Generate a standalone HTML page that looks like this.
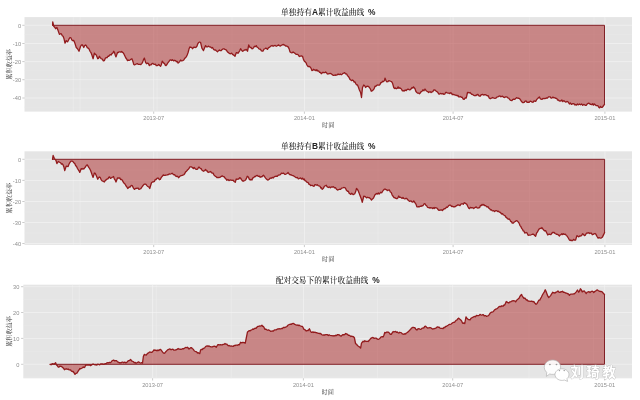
<!DOCTYPE html>
<html lang="zh"><head><meta charset="utf-8"><title>累计收益曲线</title>
<style>
html,body{margin:0;padding:0;background:#fff;}
body{width:640px;height:400px;overflow:hidden;}
svg{display:block;}
.t{font-family:"Liberation Sans","Noto Serif CJK SC",serif;font-size:7.72px;font-weight:500;fill:#1a1a1a;text-anchor:middle;}
.l{font-size:8.4px;font-weight:700;fill:#222}
.a{font-family:"Liberation Sans","Noto Serif CJK SC",serif;font-size:6.15px;fill:#3a3a3a;text-anchor:middle;}
.k{font-family:"Liberation Sans",sans-serif;font-size:5.7px;fill:#8e8e8e;}
.wm{font-family:"Liberation Sans","Noto Sans CJK SC",sans-serif;font-size:13.3px;font-weight:700;letter-spacing:2.7px;}
</style></head><body>
<svg width="640" height="400" viewBox="0 0 640 400" style="will-change:transform">
<g>
<rect x="24.50" y="17.10" width="607.50" height="94.50" fill="#E5E5E5"/>
<line x1="24.50" x2="632.00" y1="34.40" y2="34.40" stroke="#EBEBEB" stroke-width="0.4"/>
<line x1="24.50" x2="632.00" y1="52.50" y2="52.50" stroke="#EBEBEB" stroke-width="0.4"/>
<line x1="24.50" x2="632.00" y1="70.70" y2="70.70" stroke="#EBEBEB" stroke-width="0.4"/>
<line x1="24.50" x2="632.00" y1="88.90" y2="88.90" stroke="#EBEBEB" stroke-width="0.4"/>
<line x1="24.50" x2="632.00" y1="107.10" y2="107.10" stroke="#EBEBEB" stroke-width="0.4"/>
<line x1="73.40" x2="73.40" y1="17.10" y2="111.60" stroke="#EFEFEF" stroke-width="0.5"/>
<line x1="80.10" x2="80.10" y1="17.10" y2="111.60" stroke="#EFEFEF" stroke-width="0.5"/>
<line x1="157.10" x2="157.10" y1="17.10" y2="111.60" stroke="#EFEFEF" stroke-width="0.5"/>
<line x1="232.00" x2="232.00" y1="17.10" y2="111.60" stroke="#EFEFEF" stroke-width="0.5"/>
<line x1="378.00" x2="378.00" y1="17.10" y2="111.60" stroke="#EFEFEF" stroke-width="0.5"/>
<line x1="450.40" x2="450.40" y1="17.10" y2="111.60" stroke="#EFEFEF" stroke-width="0.5"/>
<line x1="529.50" x2="529.50" y1="17.10" y2="111.60" stroke="#EFEFEF" stroke-width="0.5"/>
<line x1="594.00" x2="594.00" y1="17.10" y2="111.60" stroke="#EFEFEF" stroke-width="0.5"/>
<line x1="24.50" x2="632.00" y1="25.30" y2="25.30" stroke="#F5F5F5" stroke-width="0.6"/>
<line x1="22.30" x2="24.50" y1="25.30" y2="25.30" stroke="#7F7F7F" stroke-width="0.4"/>
<text class="k" text-anchor="end" x="21.10" y="27.60">0</text>
<line x1="24.50" x2="632.00" y1="43.50" y2="43.50" stroke="#F5F5F5" stroke-width="0.6"/>
<line x1="22.30" x2="24.50" y1="43.50" y2="43.50" stroke="#7F7F7F" stroke-width="0.4"/>
<text class="k" text-anchor="end" x="21.10" y="45.80">-10</text>
<line x1="24.50" x2="632.00" y1="61.60" y2="61.60" stroke="#F5F5F5" stroke-width="0.6"/>
<line x1="22.30" x2="24.50" y1="61.60" y2="61.60" stroke="#7F7F7F" stroke-width="0.4"/>
<text class="k" text-anchor="end" x="21.10" y="63.90">-20</text>
<line x1="24.50" x2="632.00" y1="79.70" y2="79.70" stroke="#F5F5F5" stroke-width="0.6"/>
<line x1="22.30" x2="24.50" y1="79.70" y2="79.70" stroke="#7F7F7F" stroke-width="0.4"/>
<text class="k" text-anchor="end" x="21.10" y="82.00">-30</text>
<line x1="24.50" x2="632.00" y1="98.00" y2="98.00" stroke="#F5F5F5" stroke-width="0.6"/>
<line x1="22.30" x2="24.50" y1="98.00" y2="98.00" stroke="#7F7F7F" stroke-width="0.4"/>
<text class="k" text-anchor="end" x="21.10" y="100.30">-40</text>
<line x1="153.70" x2="153.70" y1="17.10" y2="111.60" stroke="#F5F5F5" stroke-width="0.6"/>
<line x1="153.70" x2="153.70" y1="111.60" y2="113.80" stroke="#7F7F7F" stroke-width="0.4"/>
<text class="k" text-anchor="middle" x="153.70" y="120.20">2013-07</text>
<line x1="304.40" x2="304.40" y1="17.10" y2="111.60" stroke="#F5F5F5" stroke-width="0.6"/>
<line x1="304.40" x2="304.40" y1="111.60" y2="113.80" stroke="#7F7F7F" stroke-width="0.4"/>
<text class="k" text-anchor="middle" x="304.40" y="120.20">2014-01</text>
<line x1="453.10" x2="453.10" y1="17.10" y2="111.60" stroke="#F5F5F5" stroke-width="0.6"/>
<line x1="453.10" x2="453.10" y1="111.60" y2="113.80" stroke="#7F7F7F" stroke-width="0.4"/>
<text class="k" text-anchor="middle" x="453.10" y="120.20">2014-07</text>
<line x1="604.90" x2="604.90" y1="17.10" y2="111.60" stroke="#F5F5F5" stroke-width="0.6"/>
<line x1="604.90" x2="604.90" y1="111.60" y2="113.80" stroke="#7F7F7F" stroke-width="0.4"/>
<text class="k" text-anchor="middle" x="604.90" y="120.20">2015-01</text>
<path d="M52.60,25.30 L52.75,21.90 L53.75,26.25 L54.67,27.17 L55.60,28.75 L56.90,27.50 L58.10,30.60 L59.40,34.40 L60.60,33.75 L61.43,33.92 L62.27,35.70 L63.10,36.25 L64.05,38.86 L65.00,43.10 L66.25,40.60 L67.50,41.90 L68.33,40.50 L69.17,38.71 L70.00,37.50 L70.95,37.91 L71.90,40.00 L72.73,40.65 L73.57,40.39 L74.40,41.90 L75.33,44.57 L76.25,47.50 L77.50,48.75 L79.00,51.25 L80.60,46.25 L81.55,44.81 L82.50,45.00 L83.75,47.50 L84.67,45.47 L85.60,45.00 L86.43,45.89 L87.27,47.69 L88.10,48.10 L89.05,48.96 L90.00,51.25 L90.95,52.60 L91.90,55.00 L93.10,58.75 L94.40,53.10 L95.33,54.29 L96.25,55.00 L97.75,58.75 L98.58,58.35 L99.40,56.25 L100.33,57.65 L101.25,58.75 L102.30,59.17 L103.35,60.89 L104.40,60.60 L105.33,58.19 L106.25,57.50 L107.08,57.76 L107.92,56.27 L108.75,56.25 L109.58,55.16 L110.42,54.69 L111.25,55.00 L112.08,53.39 L112.92,53.10 L113.75,51.25 L114.50,52.53 L115.25,55.17 L116.00,56.90 L117.50,52.50 L118.33,52.56 L119.17,51.86 L120.00,51.90 L120.83,52.19 L121.67,51.47 L122.50,52.50 L123.33,52.91 L124.17,54.44 L125.00,56.25 L125.83,58.04 L126.67,59.01 L127.50,60.60 L128.33,60.05 L129.17,60.36 L130.00,60.00 L130.95,59.29 L131.90,58.75 L132.82,61.19 L133.75,64.40 L134.58,64.83 L135.42,64.51 L136.25,64.00 L137.19,63.61 L138.12,64.34 L139.06,64.35 L140.00,64.40 L140.83,64.48 L141.67,63.57 L142.50,62.50 L143.45,59.90 L144.40,58.10 L145.60,62.50 L146.55,63.71 L147.50,63.10 L148.45,63.62 L149.40,65.60 L150.23,64.83 L151.07,64.86 L151.90,63.75 L152.73,63.31 L153.57,64.16 L154.40,64.40 L155.32,64.12 L156.25,65.60 L157.08,65.52 L157.92,65.30 L158.75,64.40 L159.68,65.46 L160.60,66.25 L161.43,64.46 L162.25,61.25 L163.75,63.10 L164.50,63.58 L165.25,65.14 L166.00,65.60 L167.05,64.23 L168.10,62.50 L169.05,61.40 L170.00,60.00 L170.83,59.83 L171.67,60.48 L172.50,59.75 L173.53,60.88 L174.57,60.27 L175.60,60.60 L176.43,61.75 L177.27,61.43 L178.10,63.10 L178.93,62.45 L179.77,61.31 L180.60,60.00 L181.65,60.94 L182.70,60.61 L183.75,60.00 L184.58,58.56 L185.42,57.72 L186.25,56.90 L187.18,55.02 L188.10,52.50 L189.05,48.79 L190.00,46.90 L190.83,47.44 L191.67,47.50 L192.50,48.75 L193.33,47.61 L194.17,47.08 L195.00,47.50 L195.95,47.38 L196.90,46.25 L197.82,43.67 L198.75,42.50 L199.68,42.02 L200.60,42.50 L201.90,48.10 L203.50,50.60 L204.55,47.89 L205.60,45.60 L206.55,46.96 L207.50,46.90 L208.33,46.10 L209.17,46.80 L210.00,46.90 L210.83,47.19 L211.67,48.03 L212.50,47.50 L213.33,48.94 L214.17,49.86 L215.00,50.00 L215.83,50.21 L216.67,51.11 L217.50,51.90 L218.45,50.68 L219.40,50.00 L220.23,50.65 L221.07,50.70 L221.90,49.75 L222.93,48.97 L223.97,48.90 L225.00,49.40 L225.83,49.72 L226.67,50.56 L227.50,51.90 L228.33,52.49 L229.17,53.30 L230.00,53.75 L230.83,53.52 L231.67,53.24 L232.50,54.40 L233.33,54.86 L234.17,55.38 L235.00,56.25 L236.25,52.75 L237.08,52.71 L237.92,53.28 L238.75,52.25 L239.68,50.86 L240.60,48.75 L241.55,50.03 L242.50,51.25 L243.45,50.85 L244.40,50.00 L245.32,50.03 L246.25,49.40 L247.50,51.25 L248.75,45.00 L250.00,47.50 L250.95,47.28 L251.90,48.75 L252.73,48.68 L253.57,47.62 L254.40,46.25 L255.32,46.64 L256.25,45.60 L257.08,47.22 L257.92,47.50 L258.75,48.75 L259.58,49.17 L260.42,49.23 L261.25,50.60 L262.18,51.06 L263.10,51.00 L264.05,49.04 L265.00,48.75 L265.83,48.14 L266.67,48.63 L267.50,49.40 L268.33,47.93 L269.17,47.43 L270.00,46.90 L271.03,45.83 L272.07,45.52 L273.10,46.25 L274.15,45.59 L275.20,45.49 L276.25,46.25 L277.30,45.77 L278.35,44.92 L279.40,45.60 L280.43,46.03 L281.47,45.25 L282.50,44.75 L283.53,44.50 L284.57,45.11 L285.60,46.00 L286.43,46.01 L287.27,46.34 L288.10,46.90 L289.05,48.68 L290.00,51.90 L291.03,52.56 L292.07,52.84 L293.10,51.90 L294.15,52.67 L295.20,53.54 L296.25,54.40 L297.30,54.31 L298.35,55.04 L299.40,56.50 L300.43,56.12 L301.47,55.89 L302.50,56.25 L303.45,59.37 L304.40,61.25 L305.23,61.86 L306.07,62.84 L306.90,65.00 L307.93,66.49 L308.97,66.32 L310.00,66.90 L310.95,68.08 L311.90,70.60 L312.73,70.48 L313.57,69.30 L314.40,70.00 L315.23,69.97 L316.07,70.74 L316.90,69.75 L317.82,71.07 L318.75,71.00 L319.58,72.29 L320.42,72.38 L321.25,73.75 L322.08,73.08 L322.92,72.28 L323.75,72.50 L324.68,72.72 L325.60,71.90 L326.43,72.66 L327.27,73.83 L328.10,74.00 L329.15,73.59 L330.20,73.31 L331.25,73.75 L332.19,74.65 L333.12,75.30 L334.06,75.36 L335.00,75.00 L336.03,75.25 L337.07,74.94 L338.10,74.00 L339.15,74.71 L340.20,73.98 L341.25,74.75 L342.08,74.23 L342.92,73.38 L343.75,73.10 L344.62,72.56 L345.50,73.80 L346.50,73.80 L347.50,75.60 L348.33,76.45 L349.17,77.68 L350.00,79.40 L350.83,79.97 L351.67,80.67 L352.50,80.00 L353.33,80.53 L354.17,82.10 L355.00,81.90 L355.83,83.86 L356.67,84.83 L357.50,85.00 L358.45,87.24 L359.40,90.00 L360.60,92.50 L361.50,97.50 L362.50,87.50 L363.75,85.00 L364.68,85.72 L365.60,87.50 L366.55,86.36 L367.50,86.25 L368.45,86.30 L369.40,87.50 L370.32,88.81 L371.25,91.25 L372.18,90.86 L373.10,90.00 L374.05,88.89 L375.00,86.25 L375.83,86.48 L376.67,85.38 L377.50,85.00 L378.33,85.09 L379.17,85.17 L380.00,84.40 L380.83,82.56 L381.67,82.61 L382.50,81.25 L383.45,81.70 L384.40,80.60 L385.00,78.10 L385.95,80.54 L386.90,81.90 L387.82,81.73 L388.75,80.60 L389.68,80.88 L390.60,81.25 L391.55,81.56 L392.50,83.10 L393.75,87.50 L394.58,88.47 L395.42,88.02 L396.25,88.75 L397.18,88.40 L398.10,86.90 L398.93,88.33 L399.77,87.77 L400.60,88.50 L401.43,89.01 L402.27,90.75 L403.10,90.60 L404.15,91.03 L405.20,89.97 L406.25,90.60 L407.08,89.49 L407.92,89.14 L408.75,89.40 L409.58,89.95 L410.42,89.55 L411.25,88.75 L412.00,87.46 L412.75,88.14 L413.50,86.90 L415.00,88.75 L415.95,91.54 L416.90,92.50 L417.73,93.22 L418.57,93.05 L419.40,93.75 L420.23,93.09 L421.07,91.55 L421.90,91.50 L422.93,89.74 L423.97,90.73 L425.00,89.00 L425.95,90.41 L426.90,91.25 L427.73,91.52 L428.57,92.51 L429.40,91.90 L430.23,91.77 L431.07,92.61 L431.90,91.90 L432.82,91.57 L433.75,90.00 L434.58,89.87 L435.42,90.36 L436.25,91.25 L437.08,91.77 L437.92,92.59 L438.75,94.00 L439.58,94.08 L440.42,93.38 L441.25,93.75 L442.08,93.81 L442.92,93.48 L443.75,94.40 L444.68,94.23 L445.60,92.50 L446.43,92.42 L447.27,92.82 L448.10,93.10 L448.93,93.14 L449.77,93.63 L450.60,92.75 L451.43,93.15 L452.27,94.64 L453.10,94.40 L454.15,94.69 L455.20,95.03 L456.25,95.25 L457.08,95.84 L457.92,95.44 L458.75,96.90 L459.58,96.90 L460.42,96.53 L461.25,97.25 L462.18,97.18 L463.10,99.00 L464.15,99.27 L465.20,97.78 L466.25,98.10 L467.50,92.50 L468.33,92.45 L469.17,92.93 L470.00,92.50 L470.95,93.56 L471.90,94.40 L472.73,94.47 L473.57,95.23 L474.40,95.60 L475.23,95.42 L476.07,95.57 L476.90,94.75 L477.93,94.50 L478.97,95.86 L480.00,96.25 L480.83,95.16 L481.67,94.59 L482.50,94.40 L483.53,95.03 L484.57,94.65 L485.60,94.75 L486.43,95.15 L487.27,95.81 L488.10,95.60 L489.18,97.96 L490.25,98.75 L491.00,98.23 L491.75,98.13 L492.50,97.50 L493.33,97.78 L494.17,98.06 L495.00,98.30 L495.83,98.20 L496.67,97.28 L497.50,96.90 L498.33,96.60 L499.17,96.12 L500.00,95.80 L500.83,96.79 L501.67,96.48 L502.50,96.25 L503.53,97.18 L504.57,97.52 L505.60,96.90 L506.65,96.84 L507.70,97.81 L508.75,98.10 L509.80,99.78 L510.85,100.41 L511.90,100.60 L512.73,99.51 L513.57,99.08 L514.40,99.40 L515.43,98.86 L516.47,97.72 L517.50,98.10 L518.53,98.24 L519.57,98.56 L520.60,100.00 L521.55,101.57 L522.50,102.50 L523.33,102.62 L524.17,102.42 L525.00,101.25 L526.03,100.93 L527.07,102.33 L528.10,102.25 L529.15,102.30 L530.20,101.07 L531.25,101.50 L532.19,102.16 L533.12,102.26 L534.06,100.78 L535.00,101.25 L535.83,101.28 L536.67,99.39 L537.50,98.75 L538.45,97.80 L539.40,96.90 L540.23,98.66 L541.07,99.20 L541.90,99.40 L542.93,98.46 L543.97,98.67 L545.00,98.50 L545.83,98.40 L546.67,97.93 L547.50,98.10 L548.45,96.92 L549.40,96.90 L550.23,96.96 L551.07,98.12 L551.90,98.10 L552.93,97.07 L553.97,97.97 L555.00,97.75 L555.83,98.39 L556.67,98.33 L557.50,100.00 L558.33,100.01 L559.17,100.90 L560.00,101.00 L560.94,100.92 L561.88,99.97 L562.81,101.62 L563.75,100.60 L564.80,101.45 L565.85,102.10 L566.90,101.50 L567.73,101.58 L568.57,102.72 L569.40,104.00 L570.43,103.04 L571.47,104.36 L572.50,103.75 L573.33,103.73 L574.17,103.88 L575.00,105.00 L575.83,104.52 L576.67,105.12 L577.50,104.00 L578.53,104.86 L579.57,104.04 L580.60,104.75 L581.65,103.97 L582.70,105.31 L583.75,104.40 L584.58,104.82 L585.42,105.35 L586.25,105.25 L587.30,103.89 L588.35,103.24 L589.40,103.50 L590.23,104.27 L591.07,104.19 L591.90,104.75 L592.73,103.69 L593.57,105.08 L594.40,104.00 L595.23,104.79 L596.07,105.64 L596.90,105.60 L597.83,105.63 L598.75,107.25 L599.58,107.93 L600.42,106.43 L601.25,107.25 L602.17,107.44 L603.10,106.25 L604.50,104.40 L604.50,25.30 L52.60,25.30 Z" fill="#AB2727" fill-opacity="0.5" stroke="none"/>
<path d="M604.50,104.40 L604.50,25.30 L52.60,25.30" fill="none" stroke="#7C171D" stroke-width="0.95" stroke-linejoin="miter"/>
<path d="M52.60,25.30 L52.75,21.90 L53.75,26.25 L54.67,27.17 L55.60,28.75 L56.90,27.50 L58.10,30.60 L59.40,34.40 L60.60,33.75 L61.43,33.92 L62.27,35.70 L63.10,36.25 L64.05,38.86 L65.00,43.10 L66.25,40.60 L67.50,41.90 L68.33,40.50 L69.17,38.71 L70.00,37.50 L70.95,37.91 L71.90,40.00 L72.73,40.65 L73.57,40.39 L74.40,41.90 L75.33,44.57 L76.25,47.50 L77.50,48.75 L79.00,51.25 L80.60,46.25 L81.55,44.81 L82.50,45.00 L83.75,47.50 L84.67,45.47 L85.60,45.00 L86.43,45.89 L87.27,47.69 L88.10,48.10 L89.05,48.96 L90.00,51.25 L90.95,52.60 L91.90,55.00 L93.10,58.75 L94.40,53.10 L95.33,54.29 L96.25,55.00 L97.75,58.75 L98.58,58.35 L99.40,56.25 L100.33,57.65 L101.25,58.75 L102.30,59.17 L103.35,60.89 L104.40,60.60 L105.33,58.19 L106.25,57.50 L107.08,57.76 L107.92,56.27 L108.75,56.25 L109.58,55.16 L110.42,54.69 L111.25,55.00 L112.08,53.39 L112.92,53.10 L113.75,51.25 L114.50,52.53 L115.25,55.17 L116.00,56.90 L117.50,52.50 L118.33,52.56 L119.17,51.86 L120.00,51.90 L120.83,52.19 L121.67,51.47 L122.50,52.50 L123.33,52.91 L124.17,54.44 L125.00,56.25 L125.83,58.04 L126.67,59.01 L127.50,60.60 L128.33,60.05 L129.17,60.36 L130.00,60.00 L130.95,59.29 L131.90,58.75 L132.82,61.19 L133.75,64.40 L134.58,64.83 L135.42,64.51 L136.25,64.00 L137.19,63.61 L138.12,64.34 L139.06,64.35 L140.00,64.40 L140.83,64.48 L141.67,63.57 L142.50,62.50 L143.45,59.90 L144.40,58.10 L145.60,62.50 L146.55,63.71 L147.50,63.10 L148.45,63.62 L149.40,65.60 L150.23,64.83 L151.07,64.86 L151.90,63.75 L152.73,63.31 L153.57,64.16 L154.40,64.40 L155.32,64.12 L156.25,65.60 L157.08,65.52 L157.92,65.30 L158.75,64.40 L159.68,65.46 L160.60,66.25 L161.43,64.46 L162.25,61.25 L163.75,63.10 L164.50,63.58 L165.25,65.14 L166.00,65.60 L167.05,64.23 L168.10,62.50 L169.05,61.40 L170.00,60.00 L170.83,59.83 L171.67,60.48 L172.50,59.75 L173.53,60.88 L174.57,60.27 L175.60,60.60 L176.43,61.75 L177.27,61.43 L178.10,63.10 L178.93,62.45 L179.77,61.31 L180.60,60.00 L181.65,60.94 L182.70,60.61 L183.75,60.00 L184.58,58.56 L185.42,57.72 L186.25,56.90 L187.18,55.02 L188.10,52.50 L189.05,48.79 L190.00,46.90 L190.83,47.44 L191.67,47.50 L192.50,48.75 L193.33,47.61 L194.17,47.08 L195.00,47.50 L195.95,47.38 L196.90,46.25 L197.82,43.67 L198.75,42.50 L199.68,42.02 L200.60,42.50 L201.90,48.10 L203.50,50.60 L204.55,47.89 L205.60,45.60 L206.55,46.96 L207.50,46.90 L208.33,46.10 L209.17,46.80 L210.00,46.90 L210.83,47.19 L211.67,48.03 L212.50,47.50 L213.33,48.94 L214.17,49.86 L215.00,50.00 L215.83,50.21 L216.67,51.11 L217.50,51.90 L218.45,50.68 L219.40,50.00 L220.23,50.65 L221.07,50.70 L221.90,49.75 L222.93,48.97 L223.97,48.90 L225.00,49.40 L225.83,49.72 L226.67,50.56 L227.50,51.90 L228.33,52.49 L229.17,53.30 L230.00,53.75 L230.83,53.52 L231.67,53.24 L232.50,54.40 L233.33,54.86 L234.17,55.38 L235.00,56.25 L236.25,52.75 L237.08,52.71 L237.92,53.28 L238.75,52.25 L239.68,50.86 L240.60,48.75 L241.55,50.03 L242.50,51.25 L243.45,50.85 L244.40,50.00 L245.32,50.03 L246.25,49.40 L247.50,51.25 L248.75,45.00 L250.00,47.50 L250.95,47.28 L251.90,48.75 L252.73,48.68 L253.57,47.62 L254.40,46.25 L255.32,46.64 L256.25,45.60 L257.08,47.22 L257.92,47.50 L258.75,48.75 L259.58,49.17 L260.42,49.23 L261.25,50.60 L262.18,51.06 L263.10,51.00 L264.05,49.04 L265.00,48.75 L265.83,48.14 L266.67,48.63 L267.50,49.40 L268.33,47.93 L269.17,47.43 L270.00,46.90 L271.03,45.83 L272.07,45.52 L273.10,46.25 L274.15,45.59 L275.20,45.49 L276.25,46.25 L277.30,45.77 L278.35,44.92 L279.40,45.60 L280.43,46.03 L281.47,45.25 L282.50,44.75 L283.53,44.50 L284.57,45.11 L285.60,46.00 L286.43,46.01 L287.27,46.34 L288.10,46.90 L289.05,48.68 L290.00,51.90 L291.03,52.56 L292.07,52.84 L293.10,51.90 L294.15,52.67 L295.20,53.54 L296.25,54.40 L297.30,54.31 L298.35,55.04 L299.40,56.50 L300.43,56.12 L301.47,55.89 L302.50,56.25 L303.45,59.37 L304.40,61.25 L305.23,61.86 L306.07,62.84 L306.90,65.00 L307.93,66.49 L308.97,66.32 L310.00,66.90 L310.95,68.08 L311.90,70.60 L312.73,70.48 L313.57,69.30 L314.40,70.00 L315.23,69.97 L316.07,70.74 L316.90,69.75 L317.82,71.07 L318.75,71.00 L319.58,72.29 L320.42,72.38 L321.25,73.75 L322.08,73.08 L322.92,72.28 L323.75,72.50 L324.68,72.72 L325.60,71.90 L326.43,72.66 L327.27,73.83 L328.10,74.00 L329.15,73.59 L330.20,73.31 L331.25,73.75 L332.19,74.65 L333.12,75.30 L334.06,75.36 L335.00,75.00 L336.03,75.25 L337.07,74.94 L338.10,74.00 L339.15,74.71 L340.20,73.98 L341.25,74.75 L342.08,74.23 L342.92,73.38 L343.75,73.10 L344.62,72.56 L345.50,73.80 L346.50,73.80 L347.50,75.60 L348.33,76.45 L349.17,77.68 L350.00,79.40 L350.83,79.97 L351.67,80.67 L352.50,80.00 L353.33,80.53 L354.17,82.10 L355.00,81.90 L355.83,83.86 L356.67,84.83 L357.50,85.00 L358.45,87.24 L359.40,90.00 L360.60,92.50 L361.50,97.50 L362.50,87.50 L363.75,85.00 L364.68,85.72 L365.60,87.50 L366.55,86.36 L367.50,86.25 L368.45,86.30 L369.40,87.50 L370.32,88.81 L371.25,91.25 L372.18,90.86 L373.10,90.00 L374.05,88.89 L375.00,86.25 L375.83,86.48 L376.67,85.38 L377.50,85.00 L378.33,85.09 L379.17,85.17 L380.00,84.40 L380.83,82.56 L381.67,82.61 L382.50,81.25 L383.45,81.70 L384.40,80.60 L385.00,78.10 L385.95,80.54 L386.90,81.90 L387.82,81.73 L388.75,80.60 L389.68,80.88 L390.60,81.25 L391.55,81.56 L392.50,83.10 L393.75,87.50 L394.58,88.47 L395.42,88.02 L396.25,88.75 L397.18,88.40 L398.10,86.90 L398.93,88.33 L399.77,87.77 L400.60,88.50 L401.43,89.01 L402.27,90.75 L403.10,90.60 L404.15,91.03 L405.20,89.97 L406.25,90.60 L407.08,89.49 L407.92,89.14 L408.75,89.40 L409.58,89.95 L410.42,89.55 L411.25,88.75 L412.00,87.46 L412.75,88.14 L413.50,86.90 L415.00,88.75 L415.95,91.54 L416.90,92.50 L417.73,93.22 L418.57,93.05 L419.40,93.75 L420.23,93.09 L421.07,91.55 L421.90,91.50 L422.93,89.74 L423.97,90.73 L425.00,89.00 L425.95,90.41 L426.90,91.25 L427.73,91.52 L428.57,92.51 L429.40,91.90 L430.23,91.77 L431.07,92.61 L431.90,91.90 L432.82,91.57 L433.75,90.00 L434.58,89.87 L435.42,90.36 L436.25,91.25 L437.08,91.77 L437.92,92.59 L438.75,94.00 L439.58,94.08 L440.42,93.38 L441.25,93.75 L442.08,93.81 L442.92,93.48 L443.75,94.40 L444.68,94.23 L445.60,92.50 L446.43,92.42 L447.27,92.82 L448.10,93.10 L448.93,93.14 L449.77,93.63 L450.60,92.75 L451.43,93.15 L452.27,94.64 L453.10,94.40 L454.15,94.69 L455.20,95.03 L456.25,95.25 L457.08,95.84 L457.92,95.44 L458.75,96.90 L459.58,96.90 L460.42,96.53 L461.25,97.25 L462.18,97.18 L463.10,99.00 L464.15,99.27 L465.20,97.78 L466.25,98.10 L467.50,92.50 L468.33,92.45 L469.17,92.93 L470.00,92.50 L470.95,93.56 L471.90,94.40 L472.73,94.47 L473.57,95.23 L474.40,95.60 L475.23,95.42 L476.07,95.57 L476.90,94.75 L477.93,94.50 L478.97,95.86 L480.00,96.25 L480.83,95.16 L481.67,94.59 L482.50,94.40 L483.53,95.03 L484.57,94.65 L485.60,94.75 L486.43,95.15 L487.27,95.81 L488.10,95.60 L489.18,97.96 L490.25,98.75 L491.00,98.23 L491.75,98.13 L492.50,97.50 L493.33,97.78 L494.17,98.06 L495.00,98.30 L495.83,98.20 L496.67,97.28 L497.50,96.90 L498.33,96.60 L499.17,96.12 L500.00,95.80 L500.83,96.79 L501.67,96.48 L502.50,96.25 L503.53,97.18 L504.57,97.52 L505.60,96.90 L506.65,96.84 L507.70,97.81 L508.75,98.10 L509.80,99.78 L510.85,100.41 L511.90,100.60 L512.73,99.51 L513.57,99.08 L514.40,99.40 L515.43,98.86 L516.47,97.72 L517.50,98.10 L518.53,98.24 L519.57,98.56 L520.60,100.00 L521.55,101.57 L522.50,102.50 L523.33,102.62 L524.17,102.42 L525.00,101.25 L526.03,100.93 L527.07,102.33 L528.10,102.25 L529.15,102.30 L530.20,101.07 L531.25,101.50 L532.19,102.16 L533.12,102.26 L534.06,100.78 L535.00,101.25 L535.83,101.28 L536.67,99.39 L537.50,98.75 L538.45,97.80 L539.40,96.90 L540.23,98.66 L541.07,99.20 L541.90,99.40 L542.93,98.46 L543.97,98.67 L545.00,98.50 L545.83,98.40 L546.67,97.93 L547.50,98.10 L548.45,96.92 L549.40,96.90 L550.23,96.96 L551.07,98.12 L551.90,98.10 L552.93,97.07 L553.97,97.97 L555.00,97.75 L555.83,98.39 L556.67,98.33 L557.50,100.00 L558.33,100.01 L559.17,100.90 L560.00,101.00 L560.94,100.92 L561.88,99.97 L562.81,101.62 L563.75,100.60 L564.80,101.45 L565.85,102.10 L566.90,101.50 L567.73,101.58 L568.57,102.72 L569.40,104.00 L570.43,103.04 L571.47,104.36 L572.50,103.75 L573.33,103.73 L574.17,103.88 L575.00,105.00 L575.83,104.52 L576.67,105.12 L577.50,104.00 L578.53,104.86 L579.57,104.04 L580.60,104.75 L581.65,103.97 L582.70,105.31 L583.75,104.40 L584.58,104.82 L585.42,105.35 L586.25,105.25 L587.30,103.89 L588.35,103.24 L589.40,103.50 L590.23,104.27 L591.07,104.19 L591.90,104.75 L592.73,103.69 L593.57,105.08 L594.40,104.00 L595.23,104.79 L596.07,105.64 L596.90,105.60 L597.83,105.63 L598.75,107.25 L599.58,107.93 L600.42,106.43 L601.25,107.25 L602.17,107.44 L603.10,106.25 L604.50,104.40" fill="none" stroke="#921B1D" stroke-width="1.3" stroke-linejoin="round" stroke-linecap="round"/>
<text class="t" x="328.25" y="15.10">单独持有<tspan class="l">A</tspan>累计收益曲线 <tspan class="l" dx="1.65">%</tspan></text>
<text class="a" x="328.25" y="127.30">时间</text>
<text class="a" transform="translate(11.00,64.35) rotate(-90)">累积收益率</text>
</g>
<g>
<rect x="24.50" y="151.30" width="607.50" height="93.60" fill="#E5E5E5"/>
<line x1="24.50" x2="632.00" y1="169.90" y2="169.90" stroke="#EBEBEB" stroke-width="0.4"/>
<line x1="24.50" x2="632.00" y1="191.00" y2="191.00" stroke="#EBEBEB" stroke-width="0.4"/>
<line x1="24.50" x2="632.00" y1="212.00" y2="212.00" stroke="#EBEBEB" stroke-width="0.4"/>
<line x1="24.50" x2="632.00" y1="233.00" y2="233.00" stroke="#EBEBEB" stroke-width="0.4"/>
<line x1="73.40" x2="73.40" y1="151.30" y2="244.90" stroke="#EFEFEF" stroke-width="0.5"/>
<line x1="80.10" x2="80.10" y1="151.30" y2="244.90" stroke="#EFEFEF" stroke-width="0.5"/>
<line x1="157.10" x2="157.10" y1="151.30" y2="244.90" stroke="#EFEFEF" stroke-width="0.5"/>
<line x1="232.00" x2="232.00" y1="151.30" y2="244.90" stroke="#EFEFEF" stroke-width="0.5"/>
<line x1="378.00" x2="378.00" y1="151.30" y2="244.90" stroke="#EFEFEF" stroke-width="0.5"/>
<line x1="450.40" x2="450.40" y1="151.30" y2="244.90" stroke="#EFEFEF" stroke-width="0.5"/>
<line x1="529.50" x2="529.50" y1="151.30" y2="244.90" stroke="#EFEFEF" stroke-width="0.5"/>
<line x1="594.00" x2="594.00" y1="151.30" y2="244.90" stroke="#EFEFEF" stroke-width="0.5"/>
<line x1="24.50" x2="632.00" y1="159.30" y2="159.30" stroke="#F5F5F5" stroke-width="0.6"/>
<line x1="22.30" x2="24.50" y1="159.30" y2="159.30" stroke="#7F7F7F" stroke-width="0.4"/>
<text class="k" text-anchor="end" x="21.10" y="161.60">0</text>
<line x1="24.50" x2="632.00" y1="180.40" y2="180.40" stroke="#F5F5F5" stroke-width="0.6"/>
<line x1="22.30" x2="24.50" y1="180.40" y2="180.40" stroke="#7F7F7F" stroke-width="0.4"/>
<text class="k" text-anchor="end" x="21.10" y="182.70">-10</text>
<line x1="24.50" x2="632.00" y1="201.50" y2="201.50" stroke="#F5F5F5" stroke-width="0.6"/>
<line x1="22.30" x2="24.50" y1="201.50" y2="201.50" stroke="#7F7F7F" stroke-width="0.4"/>
<text class="k" text-anchor="end" x="21.10" y="203.80">-20</text>
<line x1="24.50" x2="632.00" y1="222.50" y2="222.50" stroke="#F5F5F5" stroke-width="0.6"/>
<line x1="22.30" x2="24.50" y1="222.50" y2="222.50" stroke="#7F7F7F" stroke-width="0.4"/>
<text class="k" text-anchor="end" x="21.10" y="224.80">-30</text>
<line x1="24.50" x2="632.00" y1="243.50" y2="243.50" stroke="#F5F5F5" stroke-width="0.6"/>
<line x1="22.30" x2="24.50" y1="243.50" y2="243.50" stroke="#7F7F7F" stroke-width="0.4"/>
<text class="k" text-anchor="end" x="21.10" y="245.80">-40</text>
<line x1="153.70" x2="153.70" y1="151.30" y2="244.90" stroke="#F5F5F5" stroke-width="0.6"/>
<line x1="153.70" x2="153.70" y1="244.90" y2="247.10" stroke="#7F7F7F" stroke-width="0.4"/>
<text class="k" text-anchor="middle" x="153.70" y="253.50">2013-07</text>
<line x1="304.40" x2="304.40" y1="151.30" y2="244.90" stroke="#F5F5F5" stroke-width="0.6"/>
<line x1="304.40" x2="304.40" y1="244.90" y2="247.10" stroke="#7F7F7F" stroke-width="0.4"/>
<text class="k" text-anchor="middle" x="304.40" y="253.50">2014-01</text>
<line x1="453.10" x2="453.10" y1="151.30" y2="244.90" stroke="#F5F5F5" stroke-width="0.6"/>
<line x1="453.10" x2="453.10" y1="244.90" y2="247.10" stroke="#7F7F7F" stroke-width="0.4"/>
<text class="k" text-anchor="middle" x="453.10" y="253.50">2014-07</text>
<line x1="604.90" x2="604.90" y1="151.30" y2="244.90" stroke="#F5F5F5" stroke-width="0.6"/>
<line x1="604.90" x2="604.90" y1="244.90" y2="247.10" stroke="#7F7F7F" stroke-width="0.4"/>
<text class="k" text-anchor="middle" x="604.90" y="253.50">2015-01</text>
<path d="M52.50,159.30 L53.10,155.50 L54.40,158.60 L55.20,159.47 L56.00,160.50 L56.90,163.60 L57.70,162.28 L58.50,161.50 L59.55,162.22 L60.60,162.75 L61.43,164.19 L62.27,163.79 L63.10,164.90 L63.92,167.07 L64.75,170.50 L66.25,166.10 L67.17,166.35 L68.10,166.50 L69.05,164.01 L70.00,162.40 L70.95,161.09 L71.90,161.10 L72.83,161.35 L73.75,162.75 L74.67,163.36 L75.60,165.50 L76.55,166.54 L77.50,168.60 L78.25,169.55 L79.00,170.80 L79.75,172.40 L81.25,168.60 L82.08,169.17 L82.92,168.51 L83.75,169.00 L84.67,167.88 L85.60,166.75 L86.42,165.28 L87.25,164.90 L88.75,167.40 L89.67,168.69 L90.60,170.50 L91.90,174.25 L93.10,177.40 L94.40,173.00 L95.33,173.43 L96.25,175.50 L97.75,179.25 L98.58,177.70 L99.40,177.00 L100.33,177.63 L101.25,179.90 L102.30,181.00 L103.35,181.39 L104.40,182.00 L105.33,180.42 L106.25,179.90 L107.08,179.02 L107.92,178.97 L108.75,177.40 L109.58,176.93 L110.42,178.34 L111.25,178.00 L112.00,177.38 L112.75,176.99 L113.50,176.50 L114.33,178.90 L115.17,179.98 L116.00,182.00 L117.50,178.00 L118.25,177.98 L119.00,178.25 L119.75,177.90 L120.67,179.62 L121.58,179.43 L122.50,180.60 L123.33,182.30 L124.17,183.22 L125.00,184.00 L125.92,185.73 L126.83,186.84 L127.75,188.50 L128.50,187.82 L129.25,186.91 L130.00,187.25 L130.75,186.07 L131.50,185.42 L132.25,185.60 L133.32,187.91 L134.40,189.40 L135.23,188.68 L136.07,188.23 L136.90,188.50 L137.93,187.96 L138.97,189.41 L140.00,189.00 L140.83,188.71 L141.67,187.46 L142.50,186.25 L143.33,185.13 L144.17,184.31 L145.00,184.00 L145.95,184.45 L146.90,185.60 L147.85,186.50 L148.80,186.95 L149.75,188.50 L150.62,185.53 L151.50,182.75 L152.50,181.92 L153.50,181.90 L154.38,181.44 L155.25,179.40 L156.00,179.77 L156.75,178.61 L157.50,178.10 L158.42,178.10 L159.33,179.76 L160.25,179.40 L161.00,177.94 L161.75,176.89 L162.50,176.00 L163.33,174.90 L164.17,175.30 L165.00,175.25 L166.03,175.04 L167.07,174.92 L168.10,174.75 L169.15,173.91 L170.20,174.09 L171.25,173.75 L172.08,173.24 L172.92,174.02 L173.75,174.75 L174.58,174.64 L175.42,175.75 L176.25,176.50 L177.00,176.14 L177.75,176.52 L178.50,177.75 L179.42,176.70 L180.33,175.86 L181.25,175.60 L182.08,175.46 L182.92,175.08 L183.75,174.75 L184.68,173.75 L185.60,171.90 L186.55,171.22 L187.50,170.00 L188.25,169.33 L189.00,168.58 L189.75,166.90 L190.67,166.91 L191.58,167.00 L192.50,167.50 L193.33,168.62 L194.17,167.50 L195.00,168.40 L195.95,169.28 L196.90,169.40 L197.73,168.93 L198.57,167.19 L199.40,167.25 L200.32,168.57 L201.25,168.75 L202.00,170.25 L202.75,170.63 L203.50,171.25 L204.55,170.72 L205.60,169.40 L206.43,170.96 L207.27,170.85 L208.10,172.50 L208.93,172.21 L209.77,171.84 L210.60,171.50 L211.43,172.60 L212.27,173.08 L213.10,173.10 L214.05,175.10 L215.00,176.00 L216.03,176.64 L217.07,177.67 L218.10,177.50 L218.93,177.61 L219.77,177.43 L220.60,176.90 L221.43,176.31 L222.27,175.84 L223.10,176.50 L224.05,176.68 L225.00,178.10 L225.95,178.94 L226.90,180.25 L227.93,179.50 L228.97,180.65 L230.00,180.00 L231.03,180.18 L232.07,180.38 L233.10,180.25 L234.18,181.46 L235.25,182.25 L236.25,179.00 L237.08,179.31 L237.92,178.98 L238.75,179.00 L239.68,177.71 L240.60,178.10 L241.43,179.66 L242.27,180.62 L243.10,181.25 L243.93,180.84 L244.77,180.48 L245.60,180.00 L246.43,178.40 L247.25,176.25 L248.32,177.09 L249.40,179.40 L250.23,180.00 L251.07,179.38 L251.90,180.00 L252.95,177.90 L254.00,177.25 L254.75,176.30 L255.50,176.54 L256.25,175.60 L257.30,175.32 L258.35,176.44 L259.40,176.25 L260.23,177.28 L261.07,176.67 L261.90,176.90 L262.70,175.88 L263.50,175.25 L264.55,176.64 L265.60,178.10 L266.43,179.05 L267.27,179.82 L268.10,180.00 L269.20,179.20 L270.30,178.00 L271.23,178.28 L272.17,177.35 L273.10,178.10 L274.15,176.88 L275.20,176.45 L276.25,176.25 L277.30,176.25 L278.35,175.08 L279.40,175.00 L280.43,174.62 L281.47,173.17 L282.50,173.50 L283.33,173.05 L284.17,173.71 L285.00,174.40 L286.03,174.06 L287.07,173.46 L288.10,172.50 L289.05,173.92 L290.00,174.75 L291.03,174.68 L292.07,175.34 L293.10,175.60 L294.15,176.26 L295.20,176.98 L296.25,177.75 L297.30,177.35 L298.35,178.92 L299.40,178.50 L300.43,177.86 L301.47,179.05 L302.50,178.10 L303.33,179.67 L304.17,178.95 L305.00,180.60 L306.03,181.16 L307.07,182.41 L308.10,182.50 L308.93,184.33 L309.77,184.48 L310.60,185.60 L311.43,185.34 L312.27,185.37 L313.10,186.00 L313.93,186.34 L314.77,184.67 L315.60,184.75 L316.43,185.17 L317.27,184.71 L318.10,185.60 L319.05,185.97 L320.00,186.25 L320.75,188.07 L321.50,187.73 L322.25,189.40 L323.32,188.37 L324.40,186.25 L325.32,185.76 L326.25,185.25 L327.00,186.66 L327.75,187.10 L328.50,187.50 L329.42,186.84 L330.33,187.78 L331.25,186.90 L332.30,187.16 L333.35,186.66 L334.40,187.75 L335.43,187.66 L336.47,189.24 L337.50,190.00 L338.53,189.72 L339.57,189.26 L340.60,189.40 L341.65,188.16 L342.70,187.87 L343.75,187.50 L344.62,187.59 L345.50,188.30 L346.50,190.35 L347.50,191.25 L348.33,191.24 L349.17,193.34 L350.00,193.75 L350.83,194.41 L351.67,193.27 L352.50,194.00 L353.25,194.64 L354.00,194.20 L354.75,193.75 L355.62,191.81 L356.50,188.50 L357.30,189.19 L358.10,190.60 L359.05,192.88 L360.00,195.60 L361.50,199.40 L362.25,202.25 L363.75,196.25 L364.68,196.39 L365.60,196.90 L366.55,197.92 L367.50,197.25 L368.45,197.65 L369.40,197.75 L370.45,198.64 L371.50,200.00 L372.50,198.93 L373.50,198.10 L375.00,194.75 L375.83,194.12 L376.67,193.48 L377.50,194.00 L378.33,193.02 L379.17,193.97 L380.00,193.10 L380.83,192.20 L381.67,192.77 L382.50,191.50 L383.33,190.24 L384.17,189.44 L385.00,189.00 L385.75,189.55 L386.50,189.54 L387.25,190.60 L388.32,190.08 L389.40,190.00 L390.32,192.03 L391.25,192.50 L392.18,195.03 L393.10,196.25 L394.05,197.53 L395.00,197.75 L395.95,198.47 L396.90,198.75 L397.82,198.08 L398.75,196.00 L399.58,197.33 L400.42,197.25 L401.25,197.75 L402.08,198.37 L402.92,197.48 L403.75,198.50 L404.80,198.89 L405.85,198.42 L406.90,198.50 L407.73,199.85 L408.57,200.58 L409.40,201.25 L410.23,201.10 L411.07,200.92 L411.90,201.90 L412.82,202.18 L413.75,201.00 L415.25,203.10 L416.07,204.37 L416.90,206.90 L417.73,206.85 L418.57,206.63 L419.40,206.90 L420.23,206.12 L421.07,206.44 L421.90,205.60 L422.93,205.79 L423.97,203.96 L425.00,203.75 L425.83,205.18 L426.67,205.74 L427.50,207.25 L428.33,207.63 L429.17,207.64 L430.00,208.10 L430.83,207.67 L431.67,207.79 L432.50,208.50 L433.33,207.67 L434.17,208.52 L435.00,207.50 L435.83,207.91 L436.67,207.86 L437.50,208.75 L438.33,209.86 L439.17,210.43 L440.00,210.00 L440.83,210.11 L441.67,209.79 L442.50,210.60 L443.33,209.46 L444.17,208.67 L445.00,208.75 L445.83,207.98 L446.67,207.05 L447.50,207.25 L448.33,206.06 L449.17,205.34 L450.00,205.00 L450.83,205.54 L451.67,206.49 L452.50,206.25 L453.33,206.89 L454.17,206.54 L455.00,206.90 L455.83,206.12 L456.67,205.67 L457.50,205.00 L458.33,204.99 L459.17,205.12 L460.00,205.60 L460.83,204.24 L461.67,203.99 L462.50,203.75 L463.33,204.33 L464.17,202.68 L465.00,203.10 L465.95,203.76 L466.90,204.40 L467.82,206.47 L468.75,208.10 L469.58,208.60 L470.42,207.38 L471.25,207.75 L472.08,207.61 L472.92,207.82 L473.75,208.50 L474.58,207.80 L475.42,207.34 L476.25,206.90 L477.08,207.96 L477.92,208.06 L478.75,207.75 L479.58,207.67 L480.42,205.50 L481.25,205.60 L482.08,204.40 L482.92,205.16 L483.75,204.40 L484.58,205.69 L485.42,205.59 L486.25,206.25 L487.08,207.01 L487.92,206.63 L488.75,208.10 L489.58,208.47 L490.42,209.93 L491.25,209.75 L492.08,210.59 L492.92,210.92 L493.75,210.60 L494.69,211.63 L495.62,210.62 L496.56,210.61 L497.50,211.50 L498.33,211.15 L499.17,212.00 L500.00,212.20 L500.83,213.03 L501.67,213.98 L502.50,213.75 L503.33,214.74 L504.17,215.23 L505.00,215.60 L505.83,217.10 L506.67,217.63 L507.50,218.75 L508.33,219.25 L509.17,218.80 L510.00,220.00 L510.75,221.51 L511.50,221.61 L512.25,223.10 L513.33,223.21 L514.40,221.90 L515.33,221.50 L516.25,220.60 L517.17,220.92 L518.10,221.90 L519.05,223.12 L520.00,225.60 L520.83,226.44 L521.67,228.37 L522.50,229.40 L523.25,230.97 L524.00,231.21 L524.75,233.10 L526.25,232.50 L527.17,233.14 L528.10,235.25 L529.15,235.12 L530.20,235.06 L531.25,234.75 L532.08,234.44 L532.92,234.05 L533.75,234.40 L534.67,235.50 L535.60,236.25 L536.55,233.24 L537.50,231.90 L538.45,229.99 L539.40,228.75 L540.23,228.27 L541.07,228.70 L541.90,227.50 L542.83,229.00 L543.75,230.00 L544.67,230.95 L545.60,230.60 L546.67,232.76 L547.75,235.00 L548.50,234.35 L549.25,234.17 L550.00,234.40 L550.83,234.55 L551.67,233.48 L552.50,232.50 L553.33,232.51 L554.17,232.35 L555.00,233.50 L555.83,233.80 L556.67,234.40 L557.50,234.40 L558.45,235.06 L559.40,236.00 L560.23,234.79 L561.07,234.68 L561.90,233.60 L562.73,234.59 L563.57,233.67 L564.40,234.40 L565.33,234.22 L566.27,235.36 L567.20,236.25 L568.30,237.99 L569.40,240.00 L570.13,240.54 L570.87,239.95 L571.60,240.70 L572.55,240.56 L573.50,239.40 L574.55,240.11 L575.60,240.00 L576.90,235.60 L577.83,236.26 L578.75,236.90 L579.67,235.95 L580.60,236.00 L581.55,235.67 L582.50,233.75 L583.45,234.35 L584.40,235.60 L585.33,235.09 L586.25,233.50 L587.17,232.84 L588.10,233.10 L588.93,232.63 L589.77,233.54 L590.60,233.10 L591.43,233.18 L592.27,234.73 L593.10,234.40 L594.05,233.94 L595.00,233.50 L595.95,234.34 L596.90,236.25 L598.10,238.10 L598.93,237.63 L599.77,237.96 L600.60,238.10 L601.55,237.78 L602.50,236.90 L603.75,234.40 L604.60,232.50 L604.60,159.30 L52.50,159.30 Z" fill="#AB2727" fill-opacity="0.5" stroke="none"/>
<path d="M604.60,232.50 L604.60,159.30 L52.50,159.30" fill="none" stroke="#7C171D" stroke-width="0.95" stroke-linejoin="miter"/>
<path d="M52.50,159.30 L53.10,155.50 L54.40,158.60 L55.20,159.47 L56.00,160.50 L56.90,163.60 L57.70,162.28 L58.50,161.50 L59.55,162.22 L60.60,162.75 L61.43,164.19 L62.27,163.79 L63.10,164.90 L63.92,167.07 L64.75,170.50 L66.25,166.10 L67.17,166.35 L68.10,166.50 L69.05,164.01 L70.00,162.40 L70.95,161.09 L71.90,161.10 L72.83,161.35 L73.75,162.75 L74.67,163.36 L75.60,165.50 L76.55,166.54 L77.50,168.60 L78.25,169.55 L79.00,170.80 L79.75,172.40 L81.25,168.60 L82.08,169.17 L82.92,168.51 L83.75,169.00 L84.67,167.88 L85.60,166.75 L86.42,165.28 L87.25,164.90 L88.75,167.40 L89.67,168.69 L90.60,170.50 L91.90,174.25 L93.10,177.40 L94.40,173.00 L95.33,173.43 L96.25,175.50 L97.75,179.25 L98.58,177.70 L99.40,177.00 L100.33,177.63 L101.25,179.90 L102.30,181.00 L103.35,181.39 L104.40,182.00 L105.33,180.42 L106.25,179.90 L107.08,179.02 L107.92,178.97 L108.75,177.40 L109.58,176.93 L110.42,178.34 L111.25,178.00 L112.00,177.38 L112.75,176.99 L113.50,176.50 L114.33,178.90 L115.17,179.98 L116.00,182.00 L117.50,178.00 L118.25,177.98 L119.00,178.25 L119.75,177.90 L120.67,179.62 L121.58,179.43 L122.50,180.60 L123.33,182.30 L124.17,183.22 L125.00,184.00 L125.92,185.73 L126.83,186.84 L127.75,188.50 L128.50,187.82 L129.25,186.91 L130.00,187.25 L130.75,186.07 L131.50,185.42 L132.25,185.60 L133.32,187.91 L134.40,189.40 L135.23,188.68 L136.07,188.23 L136.90,188.50 L137.93,187.96 L138.97,189.41 L140.00,189.00 L140.83,188.71 L141.67,187.46 L142.50,186.25 L143.33,185.13 L144.17,184.31 L145.00,184.00 L145.95,184.45 L146.90,185.60 L147.85,186.50 L148.80,186.95 L149.75,188.50 L150.62,185.53 L151.50,182.75 L152.50,181.92 L153.50,181.90 L154.38,181.44 L155.25,179.40 L156.00,179.77 L156.75,178.61 L157.50,178.10 L158.42,178.10 L159.33,179.76 L160.25,179.40 L161.00,177.94 L161.75,176.89 L162.50,176.00 L163.33,174.90 L164.17,175.30 L165.00,175.25 L166.03,175.04 L167.07,174.92 L168.10,174.75 L169.15,173.91 L170.20,174.09 L171.25,173.75 L172.08,173.24 L172.92,174.02 L173.75,174.75 L174.58,174.64 L175.42,175.75 L176.25,176.50 L177.00,176.14 L177.75,176.52 L178.50,177.75 L179.42,176.70 L180.33,175.86 L181.25,175.60 L182.08,175.46 L182.92,175.08 L183.75,174.75 L184.68,173.75 L185.60,171.90 L186.55,171.22 L187.50,170.00 L188.25,169.33 L189.00,168.58 L189.75,166.90 L190.67,166.91 L191.58,167.00 L192.50,167.50 L193.33,168.62 L194.17,167.50 L195.00,168.40 L195.95,169.28 L196.90,169.40 L197.73,168.93 L198.57,167.19 L199.40,167.25 L200.32,168.57 L201.25,168.75 L202.00,170.25 L202.75,170.63 L203.50,171.25 L204.55,170.72 L205.60,169.40 L206.43,170.96 L207.27,170.85 L208.10,172.50 L208.93,172.21 L209.77,171.84 L210.60,171.50 L211.43,172.60 L212.27,173.08 L213.10,173.10 L214.05,175.10 L215.00,176.00 L216.03,176.64 L217.07,177.67 L218.10,177.50 L218.93,177.61 L219.77,177.43 L220.60,176.90 L221.43,176.31 L222.27,175.84 L223.10,176.50 L224.05,176.68 L225.00,178.10 L225.95,178.94 L226.90,180.25 L227.93,179.50 L228.97,180.65 L230.00,180.00 L231.03,180.18 L232.07,180.38 L233.10,180.25 L234.18,181.46 L235.25,182.25 L236.25,179.00 L237.08,179.31 L237.92,178.98 L238.75,179.00 L239.68,177.71 L240.60,178.10 L241.43,179.66 L242.27,180.62 L243.10,181.25 L243.93,180.84 L244.77,180.48 L245.60,180.00 L246.43,178.40 L247.25,176.25 L248.32,177.09 L249.40,179.40 L250.23,180.00 L251.07,179.38 L251.90,180.00 L252.95,177.90 L254.00,177.25 L254.75,176.30 L255.50,176.54 L256.25,175.60 L257.30,175.32 L258.35,176.44 L259.40,176.25 L260.23,177.28 L261.07,176.67 L261.90,176.90 L262.70,175.88 L263.50,175.25 L264.55,176.64 L265.60,178.10 L266.43,179.05 L267.27,179.82 L268.10,180.00 L269.20,179.20 L270.30,178.00 L271.23,178.28 L272.17,177.35 L273.10,178.10 L274.15,176.88 L275.20,176.45 L276.25,176.25 L277.30,176.25 L278.35,175.08 L279.40,175.00 L280.43,174.62 L281.47,173.17 L282.50,173.50 L283.33,173.05 L284.17,173.71 L285.00,174.40 L286.03,174.06 L287.07,173.46 L288.10,172.50 L289.05,173.92 L290.00,174.75 L291.03,174.68 L292.07,175.34 L293.10,175.60 L294.15,176.26 L295.20,176.98 L296.25,177.75 L297.30,177.35 L298.35,178.92 L299.40,178.50 L300.43,177.86 L301.47,179.05 L302.50,178.10 L303.33,179.67 L304.17,178.95 L305.00,180.60 L306.03,181.16 L307.07,182.41 L308.10,182.50 L308.93,184.33 L309.77,184.48 L310.60,185.60 L311.43,185.34 L312.27,185.37 L313.10,186.00 L313.93,186.34 L314.77,184.67 L315.60,184.75 L316.43,185.17 L317.27,184.71 L318.10,185.60 L319.05,185.97 L320.00,186.25 L320.75,188.07 L321.50,187.73 L322.25,189.40 L323.32,188.37 L324.40,186.25 L325.32,185.76 L326.25,185.25 L327.00,186.66 L327.75,187.10 L328.50,187.50 L329.42,186.84 L330.33,187.78 L331.25,186.90 L332.30,187.16 L333.35,186.66 L334.40,187.75 L335.43,187.66 L336.47,189.24 L337.50,190.00 L338.53,189.72 L339.57,189.26 L340.60,189.40 L341.65,188.16 L342.70,187.87 L343.75,187.50 L344.62,187.59 L345.50,188.30 L346.50,190.35 L347.50,191.25 L348.33,191.24 L349.17,193.34 L350.00,193.75 L350.83,194.41 L351.67,193.27 L352.50,194.00 L353.25,194.64 L354.00,194.20 L354.75,193.75 L355.62,191.81 L356.50,188.50 L357.30,189.19 L358.10,190.60 L359.05,192.88 L360.00,195.60 L361.50,199.40 L362.25,202.25 L363.75,196.25 L364.68,196.39 L365.60,196.90 L366.55,197.92 L367.50,197.25 L368.45,197.65 L369.40,197.75 L370.45,198.64 L371.50,200.00 L372.50,198.93 L373.50,198.10 L375.00,194.75 L375.83,194.12 L376.67,193.48 L377.50,194.00 L378.33,193.02 L379.17,193.97 L380.00,193.10 L380.83,192.20 L381.67,192.77 L382.50,191.50 L383.33,190.24 L384.17,189.44 L385.00,189.00 L385.75,189.55 L386.50,189.54 L387.25,190.60 L388.32,190.08 L389.40,190.00 L390.32,192.03 L391.25,192.50 L392.18,195.03 L393.10,196.25 L394.05,197.53 L395.00,197.75 L395.95,198.47 L396.90,198.75 L397.82,198.08 L398.75,196.00 L399.58,197.33 L400.42,197.25 L401.25,197.75 L402.08,198.37 L402.92,197.48 L403.75,198.50 L404.80,198.89 L405.85,198.42 L406.90,198.50 L407.73,199.85 L408.57,200.58 L409.40,201.25 L410.23,201.10 L411.07,200.92 L411.90,201.90 L412.82,202.18 L413.75,201.00 L415.25,203.10 L416.07,204.37 L416.90,206.90 L417.73,206.85 L418.57,206.63 L419.40,206.90 L420.23,206.12 L421.07,206.44 L421.90,205.60 L422.93,205.79 L423.97,203.96 L425.00,203.75 L425.83,205.18 L426.67,205.74 L427.50,207.25 L428.33,207.63 L429.17,207.64 L430.00,208.10 L430.83,207.67 L431.67,207.79 L432.50,208.50 L433.33,207.67 L434.17,208.52 L435.00,207.50 L435.83,207.91 L436.67,207.86 L437.50,208.75 L438.33,209.86 L439.17,210.43 L440.00,210.00 L440.83,210.11 L441.67,209.79 L442.50,210.60 L443.33,209.46 L444.17,208.67 L445.00,208.75 L445.83,207.98 L446.67,207.05 L447.50,207.25 L448.33,206.06 L449.17,205.34 L450.00,205.00 L450.83,205.54 L451.67,206.49 L452.50,206.25 L453.33,206.89 L454.17,206.54 L455.00,206.90 L455.83,206.12 L456.67,205.67 L457.50,205.00 L458.33,204.99 L459.17,205.12 L460.00,205.60 L460.83,204.24 L461.67,203.99 L462.50,203.75 L463.33,204.33 L464.17,202.68 L465.00,203.10 L465.95,203.76 L466.90,204.40 L467.82,206.47 L468.75,208.10 L469.58,208.60 L470.42,207.38 L471.25,207.75 L472.08,207.61 L472.92,207.82 L473.75,208.50 L474.58,207.80 L475.42,207.34 L476.25,206.90 L477.08,207.96 L477.92,208.06 L478.75,207.75 L479.58,207.67 L480.42,205.50 L481.25,205.60 L482.08,204.40 L482.92,205.16 L483.75,204.40 L484.58,205.69 L485.42,205.59 L486.25,206.25 L487.08,207.01 L487.92,206.63 L488.75,208.10 L489.58,208.47 L490.42,209.93 L491.25,209.75 L492.08,210.59 L492.92,210.92 L493.75,210.60 L494.69,211.63 L495.62,210.62 L496.56,210.61 L497.50,211.50 L498.33,211.15 L499.17,212.00 L500.00,212.20 L500.83,213.03 L501.67,213.98 L502.50,213.75 L503.33,214.74 L504.17,215.23 L505.00,215.60 L505.83,217.10 L506.67,217.63 L507.50,218.75 L508.33,219.25 L509.17,218.80 L510.00,220.00 L510.75,221.51 L511.50,221.61 L512.25,223.10 L513.33,223.21 L514.40,221.90 L515.33,221.50 L516.25,220.60 L517.17,220.92 L518.10,221.90 L519.05,223.12 L520.00,225.60 L520.83,226.44 L521.67,228.37 L522.50,229.40 L523.25,230.97 L524.00,231.21 L524.75,233.10 L526.25,232.50 L527.17,233.14 L528.10,235.25 L529.15,235.12 L530.20,235.06 L531.25,234.75 L532.08,234.44 L532.92,234.05 L533.75,234.40 L534.67,235.50 L535.60,236.25 L536.55,233.24 L537.50,231.90 L538.45,229.99 L539.40,228.75 L540.23,228.27 L541.07,228.70 L541.90,227.50 L542.83,229.00 L543.75,230.00 L544.67,230.95 L545.60,230.60 L546.67,232.76 L547.75,235.00 L548.50,234.35 L549.25,234.17 L550.00,234.40 L550.83,234.55 L551.67,233.48 L552.50,232.50 L553.33,232.51 L554.17,232.35 L555.00,233.50 L555.83,233.80 L556.67,234.40 L557.50,234.40 L558.45,235.06 L559.40,236.00 L560.23,234.79 L561.07,234.68 L561.90,233.60 L562.73,234.59 L563.57,233.67 L564.40,234.40 L565.33,234.22 L566.27,235.36 L567.20,236.25 L568.30,237.99 L569.40,240.00 L570.13,240.54 L570.87,239.95 L571.60,240.70 L572.55,240.56 L573.50,239.40 L574.55,240.11 L575.60,240.00 L576.90,235.60 L577.83,236.26 L578.75,236.90 L579.67,235.95 L580.60,236.00 L581.55,235.67 L582.50,233.75 L583.45,234.35 L584.40,235.60 L585.33,235.09 L586.25,233.50 L587.17,232.84 L588.10,233.10 L588.93,232.63 L589.77,233.54 L590.60,233.10 L591.43,233.18 L592.27,234.73 L593.10,234.40 L594.05,233.94 L595.00,233.50 L595.95,234.34 L596.90,236.25 L598.10,238.10 L598.93,237.63 L599.77,237.96 L600.60,238.10 L601.55,237.78 L602.50,236.90 L603.75,234.40 L604.60,232.50" fill="none" stroke="#921B1D" stroke-width="1.3" stroke-linejoin="round" stroke-linecap="round"/>
<text class="t" x="328.25" y="149.30">单独持有<tspan class="l">B</tspan>累计收益曲线 <tspan class="l" dx="1.65">%</tspan></text>
<text class="a" x="328.25" y="260.60">时间</text>
<text class="a" transform="translate(11.00,198.10) rotate(-90)">累积收益率</text>
</g>
<g>
<rect x="23.30" y="284.70" width="608.70" height="93.60" fill="#E5E5E5"/>
<line x1="23.30" x2="632.00" y1="377.20" y2="377.20" stroke="#EBEBEB" stroke-width="0.4"/>
<line x1="23.30" x2="632.00" y1="351.30" y2="351.30" stroke="#EBEBEB" stroke-width="0.4"/>
<line x1="23.30" x2="632.00" y1="325.40" y2="325.40" stroke="#EBEBEB" stroke-width="0.4"/>
<line x1="23.30" x2="632.00" y1="299.60" y2="299.60" stroke="#EBEBEB" stroke-width="0.4"/>
<line x1="72.50" x2="72.50" y1="284.70" y2="378.30" stroke="#EFEFEF" stroke-width="0.5"/>
<line x1="79.25" x2="79.25" y1="284.70" y2="378.30" stroke="#EFEFEF" stroke-width="0.5"/>
<line x1="156.25" x2="156.25" y1="284.70" y2="378.30" stroke="#EFEFEF" stroke-width="0.5"/>
<line x1="231.25" x2="231.25" y1="284.70" y2="378.30" stroke="#EFEFEF" stroke-width="0.5"/>
<line x1="377.50" x2="377.50" y1="284.70" y2="378.30" stroke="#EFEFEF" stroke-width="0.5"/>
<line x1="450.00" x2="450.00" y1="284.70" y2="378.30" stroke="#EFEFEF" stroke-width="0.5"/>
<line x1="529.00" x2="529.00" y1="284.70" y2="378.30" stroke="#EFEFEF" stroke-width="0.5"/>
<line x1="593.50" x2="593.50" y1="284.70" y2="378.30" stroke="#EFEFEF" stroke-width="0.5"/>
<line x1="23.30" x2="632.00" y1="364.30" y2="364.30" stroke="#F5F5F5" stroke-width="0.6"/>
<line x1="21.10" x2="23.30" y1="364.30" y2="364.30" stroke="#7F7F7F" stroke-width="0.4"/>
<text class="k" text-anchor="end" x="19.40" y="366.60">0</text>
<line x1="23.30" x2="632.00" y1="338.40" y2="338.40" stroke="#F5F5F5" stroke-width="0.6"/>
<line x1="21.10" x2="23.30" y1="338.40" y2="338.40" stroke="#7F7F7F" stroke-width="0.4"/>
<text class="k" text-anchor="end" x="19.40" y="340.70">10</text>
<line x1="23.30" x2="632.00" y1="312.50" y2="312.50" stroke="#F5F5F5" stroke-width="0.6"/>
<line x1="21.10" x2="23.30" y1="312.50" y2="312.50" stroke="#7F7F7F" stroke-width="0.4"/>
<text class="k" text-anchor="end" x="19.40" y="314.80">20</text>
<line x1="23.30" x2="632.00" y1="286.70" y2="286.70" stroke="#F5F5F5" stroke-width="0.6"/>
<line x1="21.10" x2="23.30" y1="286.70" y2="286.70" stroke="#7F7F7F" stroke-width="0.4"/>
<text class="k" text-anchor="end" x="19.40" y="289.00">30</text>
<line x1="152.60" x2="152.60" y1="284.70" y2="378.30" stroke="#F5F5F5" stroke-width="0.6"/>
<line x1="152.60" x2="152.60" y1="378.30" y2="380.50" stroke="#7F7F7F" stroke-width="0.4"/>
<text class="k" text-anchor="middle" x="152.60" y="386.90">2013-07</text>
<line x1="303.40" x2="303.40" y1="284.70" y2="378.30" stroke="#F5F5F5" stroke-width="0.6"/>
<line x1="303.40" x2="303.40" y1="378.30" y2="380.50" stroke="#7F7F7F" stroke-width="0.4"/>
<text class="k" text-anchor="middle" x="303.40" y="386.90">2014-01</text>
<line x1="452.70" x2="452.70" y1="284.70" y2="378.30" stroke="#F5F5F5" stroke-width="0.6"/>
<line x1="452.70" x2="452.70" y1="378.30" y2="380.50" stroke="#7F7F7F" stroke-width="0.4"/>
<text class="k" text-anchor="middle" x="452.70" y="386.90">2014-07</text>
<line x1="604.70" x2="604.70" y1="284.70" y2="378.30" stroke="#F5F5F5" stroke-width="0.6"/>
<line x1="604.70" x2="604.70" y1="378.30" y2="380.50" stroke="#7F7F7F" stroke-width="0.4"/>
<text class="k" text-anchor="middle" x="604.70" y="386.90">2015-01</text>
<path d="M50.00,364.30 L51.10,364.76 L52.20,363.73 L53.30,363.95 L54.40,364.00 L55.60,362.75 L56.50,365.00 L57.30,365.61 L58.10,366.90 L58.93,367.25 L59.77,366.04 L60.60,366.25 L61.55,366.34 L62.50,367.50 L63.45,368.10 L64.40,369.75 L65.33,369.12 L66.25,368.75 L67.17,369.35 L68.10,369.00 L68.93,369.79 L69.77,369.95 L70.60,370.00 L71.43,371.10 L72.27,371.52 L73.10,371.50 L74.05,372.75 L75.00,374.40 L75.95,373.37 L76.90,373.10 L78.50,370.60 L80.00,368.50 L80.83,368.77 L81.67,368.30 L82.50,367.75 L83.25,367.02 L84.00,367.61 L84.75,367.25 L85.60,365.25 L86.43,365.02 L87.27,364.93 L88.10,365.00 L88.93,365.00 L89.77,365.00 L90.60,365.60 L91.90,364.75 L92.93,364.15 L93.97,364.49 L95.00,364.75 L95.94,364.51 L96.88,365.17 L97.81,364.11 L98.75,364.50 L99.69,364.93 L100.62,363.90 L101.56,363.95 L102.50,364.00 L103.44,364.26 L104.38,364.14 L105.31,363.54 L106.25,363.50 L107.08,362.71 L107.92,362.97 L108.75,362.75 L109.58,362.31 L110.42,362.69 L111.25,361.90 L112.17,360.71 L113.10,360.25 L113.93,360.20 L114.77,360.96 L115.60,360.60 L116.55,360.69 L117.50,361.90 L118.33,362.03 L119.17,362.74 L120.00,362.60 L120.94,362.96 L121.88,362.12 L122.81,362.15 L123.75,362.75 L124.80,362.06 L125.85,362.92 L126.90,362.25 L127.83,361.13 L128.75,360.60 L129.68,360.30 L130.60,359.40 L131.55,360.80 L132.50,361.25 L133.45,361.81 L134.40,362.75 L135.23,362.48 L136.07,363.30 L136.90,362.75 L138.50,361.90 L140.00,362.75 L140.83,363.01 L141.67,362.70 L142.50,363.10 L143.40,356.25 L144.40,354.40 L145.32,354.96 L146.25,355.00 L147.18,353.83 L148.10,353.10 L148.93,352.55 L149.77,351.94 L150.60,352.25 L151.55,352.38 L152.50,351.90 L154.00,349.75 L154.75,350.42 L155.50,350.24 L156.25,350.25 L157.08,350.90 L157.92,349.91 L158.75,350.60 L159.68,349.68 L160.60,349.40 L161.55,350.62 L162.50,351.90 L163.25,352.85 L164.00,353.24 L164.75,353.10 L165.82,351.71 L166.90,350.60 L167.73,349.77 L168.57,349.45 L169.40,349.00 L170.23,349.13 L171.07,349.78 L171.90,349.40 L172.93,349.22 L173.97,350.16 L175.00,350.00 L176.03,349.79 L177.07,349.39 L178.10,348.50 L179.15,349.13 L180.20,349.23 L181.25,349.40 L182.08,348.98 L182.92,348.75 L183.75,348.75 L184.68,347.96 L185.60,347.50 L186.55,347.71 L187.50,347.25 L189.00,349.00 L190.60,347.75 L191.55,347.74 L192.50,348.75 L193.33,349.22 L194.17,350.72 L195.00,351.25 L195.83,351.53 L196.67,351.89 L197.50,353.00 L198.25,352.61 L199.00,353.40 L199.75,353.50 L200.60,350.00 L201.43,349.29 L202.27,349.58 L203.10,348.50 L203.93,348.29 L204.77,347.75 L205.60,346.50 L206.43,346.13 L207.27,345.83 L208.10,346.25 L209.15,345.98 L210.20,346.68 L211.25,346.90 L212.30,346.94 L213.35,346.40 L214.40,346.25 L215.32,346.43 L216.25,347.25 L217.75,344.75 L218.70,344.65 L219.65,344.89 L220.60,344.75 L221.43,344.84 L222.27,344.81 L223.10,344.40 L224.05,344.37 L225.00,343.50 L225.83,344.20 L226.67,344.05 L227.50,345.00 L228.33,345.74 L229.17,345.42 L230.00,346.00 L230.83,346.16 L231.67,346.01 L232.50,346.25 L233.33,346.32 L234.17,345.46 L235.00,345.60 L235.83,345.18 L236.67,345.06 L237.50,345.25 L238.45,344.58 L239.40,344.75 L240.60,342.25 L241.43,342.79 L242.27,342.51 L243.10,342.50 L244.18,342.59 L245.25,343.10 L246.50,336.90 L247.50,331.90 L248.45,331.13 L249.40,330.60 L250.23,330.91 L251.07,330.04 L251.90,329.75 L252.73,329.01 L253.57,329.29 L254.40,328.50 L255.23,328.27 L256.07,328.26 L256.90,327.25 L257.73,326.36 L258.57,326.39 L259.40,326.00 L260.23,326.13 L261.07,325.91 L261.90,325.25 L262.70,326.37 L263.50,326.50 L265.00,329.40 L265.83,329.13 L266.67,329.72 L267.50,330.25 L268.33,329.98 L269.17,330.24 L270.00,330.80 L270.83,331.43 L271.67,331.03 L272.50,331.00 L273.33,331.12 L274.17,330.05 L275.00,329.80 L276.03,329.97 L277.07,329.21 L278.10,329.00 L279.15,328.55 L280.20,329.00 L281.25,328.50 L282.30,328.70 L283.35,327.36 L284.40,327.50 L285.23,327.28 L286.07,326.98 L286.90,326.50 L287.82,325.29 L288.75,324.75 L289.58,324.48 L290.42,324.09 L291.25,324.40 L292.18,323.59 L293.10,323.50 L293.93,323.62 L294.77,324.45 L295.60,324.75 L296.43,325.22 L297.27,324.96 L298.10,325.60 L298.93,325.15 L299.77,325.66 L300.60,326.00 L301.55,326.46 L302.50,326.50 L304.00,329.40 L304.75,329.56 L305.50,330.24 L306.25,331.00 L307.18,330.44 L308.10,330.60 L309.40,328.75 L310.32,330.85 L311.25,332.25 L312.08,332.39 L312.92,331.89 L313.75,332.50 L314.80,332.10 L315.85,332.54 L316.90,332.75 L317.73,333.06 L318.57,333.42 L319.40,333.50 L320.23,333.43 L321.07,333.93 L321.90,334.75 L322.93,335.07 L323.97,334.81 L325.00,335.00 L325.83,334.66 L326.67,334.60 L327.50,334.75 L328.33,335.46 L329.17,334.86 L330.00,335.25 L331.03,335.58 L332.07,335.58 L333.10,336.00 L333.93,335.65 L334.77,335.94 L335.60,335.25 L336.43,335.68 L337.27,334.75 L338.10,334.75 L339.15,334.80 L340.20,335.86 L341.25,336.00 L342.08,335.23 L342.92,334.57 L343.75,334.75 L344.68,334.61 L345.60,333.50 L346.55,333.86 L347.50,334.40 L348.33,335.25 L349.17,335.22 L350.00,335.80 L350.83,336.49 L351.67,336.22 L352.50,336.50 L353.45,336.72 L354.40,337.75 L355.60,343.75 L356.55,344.09 L357.50,345.60 L358.45,346.31 L359.40,346.90 L360.60,348.10 L361.50,343.10 L362.30,342.34 L363.10,341.25 L363.93,341.74 L364.77,340.76 L365.60,341.25 L366.43,341.48 L367.27,341.26 L368.10,341.50 L369.05,340.46 L370.00,339.40 L370.83,338.34 L371.67,337.87 L372.50,337.50 L373.33,337.73 L374.17,338.41 L375.00,338.10 L376.03,338.06 L377.07,338.96 L378.10,339.40 L378.93,339.05 L379.77,338.53 L380.60,337.25 L381.43,336.77 L382.27,336.57 L383.10,336.90 L383.93,335.23 L384.75,332.50 L385.82,332.77 L386.90,331.90 L387.73,332.28 L388.57,332.16 L389.40,333.10 L390.32,334.26 L391.25,334.40 L392.18,332.82 L393.10,331.50 L393.93,331.99 L394.77,331.64 L395.60,331.50 L396.43,332.31 L397.27,331.93 L398.10,332.75 L398.93,333.01 L399.77,332.25 L400.60,332.50 L401.43,332.89 L402.27,333.92 L403.10,334.00 L403.93,334.40 L404.77,333.62 L405.60,334.00 L406.43,332.96 L407.27,332.48 L408.10,331.90 L408.93,331.09 L409.77,330.09 L410.60,329.40 L411.43,328.23 L412.27,327.66 L413.10,327.25 L414.05,327.77 L415.00,327.75 L415.95,329.35 L416.90,330.00 L417.82,328.82 L418.75,328.75 L419.58,328.97 L420.42,329.36 L421.25,329.20 L422.12,328.05 L423.00,328.00 L423.87,327.82 L424.73,326.37 L425.60,326.25 L426.55,327.29 L427.50,328.10 L428.33,327.96 L429.17,327.85 L430.00,327.50 L430.83,327.77 L431.67,328.40 L432.50,329.00 L433.33,328.93 L434.17,328.58 L435.00,328.50 L435.83,328.16 L436.67,327.37 L437.50,326.90 L438.33,327.23 L439.17,327.13 L440.00,328.10 L441.03,328.38 L442.07,328.35 L443.10,328.50 L443.93,327.52 L444.77,327.48 L445.60,326.50 L446.43,326.42 L447.27,325.62 L448.10,325.25 L449.15,324.45 L450.20,324.38 L451.25,324.00 L452.30,322.95 L453.35,322.39 L454.40,322.25 L455.23,321.42 L456.07,320.26 L456.90,320.00 L457.70,318.98 L458.50,318.10 L459.55,318.94 L460.60,319.75 L461.55,320.87 L462.50,323.10 L463.25,323.40 L464.00,322.87 L464.75,323.50 L466.00,316.90 L466.88,318.23 L467.75,319.00 L468.50,319.67 L469.25,319.68 L470.00,320.00 L470.95,318.34 L471.90,317.75 L472.73,317.34 L473.57,316.77 L474.40,316.50 L475.43,316.74 L476.47,315.46 L477.50,315.60 L478.33,315.63 L479.17,315.40 L480.00,314.40 L480.83,314.80 L481.67,315.01 L482.50,314.75 L483.33,314.67 L484.17,315.89 L485.00,315.60 L485.83,315.72 L486.67,316.41 L487.50,316.00 L488.45,315.70 L489.40,314.40 L490.32,312.92 L491.25,312.25 L492.08,312.18 L492.92,311.93 L493.75,311.00 L494.58,309.78 L495.42,309.42 L496.25,308.90 L497.12,308.66 L498.00,307.80 L499.00,306.64 L500.00,306.30 L500.83,306.68 L501.67,305.83 L502.50,306.00 L503.25,306.05 L504.00,304.91 L504.75,305.00 L506.25,301.50 L507.18,302.13 L508.10,302.75 L508.93,302.97 L509.77,301.83 L510.60,301.90 L511.43,301.18 L512.27,301.04 L513.10,300.60 L513.93,300.82 L514.77,300.91 L515.60,301.90 L516.43,300.55 L517.27,299.56 L518.10,299.00 L519.05,298.15 L520.00,296.25 L521.50,294.40 L522.30,296.04 L523.10,297.25 L523.93,298.31 L524.77,298.02 L525.60,299.00 L526.43,300.01 L527.27,299.87 L528.10,301.00 L529.15,301.12 L530.20,301.33 L531.25,301.25 L532.08,301.17 L532.92,301.86 L533.75,301.50 L534.50,302.53 L535.25,303.53 L536.00,304.40 L537.05,303.41 L538.10,301.50 L538.93,300.03 L539.77,300.09 L540.60,298.50 L541.43,297.07 L542.27,295.21 L543.10,293.75 L544.17,292.11 L545.25,289.75 L546.08,291.47 L546.90,293.75 L547.83,296.21 L548.75,297.50 L549.67,296.64 L550.60,295.60 L551.67,293.76 L552.75,292.25 L553.50,292.85 L554.25,292.75 L555.00,293.10 L555.83,292.10 L556.67,292.16 L557.50,291.25 L558.33,291.09 L559.17,292.40 L560.00,292.40 L560.83,291.70 L561.67,291.77 L562.50,291.20 L563.33,292.25 L564.17,292.24 L565.00,292.60 L565.83,293.18 L566.67,293.14 L567.50,293.75 L568.45,293.98 L569.40,295.40 L570.23,294.44 L571.07,294.18 L571.90,294.20 L572.73,294.19 L573.57,293.82 L574.40,293.75 L575.33,292.84 L576.25,291.90 L577.50,290.00 L578.75,292.25 L579.58,290.97 L580.40,288.75 L581.33,289.88 L582.25,291.90 L583.33,291.12 L584.40,291.00 L585.33,292.43 L586.25,293.50 L587.17,292.13 L588.10,291.90 L589.05,291.60 L590.00,292.50 L590.95,291.70 L591.90,291.25 L592.83,291.40 L593.75,292.50 L594.67,291.58 L595.60,291.00 L596.55,290.17 L597.50,290.00 L598.45,290.73 L599.40,291.25 L600.33,291.48 L601.25,291.50 L602.17,291.95 L603.10,293.10 L604.50,294.40 L604.50,364.30 L50.00,364.30 Z" fill="#AB2727" fill-opacity="0.5" stroke="none"/>
<path d="M604.50,294.40 L604.50,364.30 L50.00,364.30" fill="none" stroke="#7C171D" stroke-width="0.95" stroke-linejoin="miter"/>
<path d="M50.00,364.30 L51.10,364.76 L52.20,363.73 L53.30,363.95 L54.40,364.00 L55.60,362.75 L56.50,365.00 L57.30,365.61 L58.10,366.90 L58.93,367.25 L59.77,366.04 L60.60,366.25 L61.55,366.34 L62.50,367.50 L63.45,368.10 L64.40,369.75 L65.33,369.12 L66.25,368.75 L67.17,369.35 L68.10,369.00 L68.93,369.79 L69.77,369.95 L70.60,370.00 L71.43,371.10 L72.27,371.52 L73.10,371.50 L74.05,372.75 L75.00,374.40 L75.95,373.37 L76.90,373.10 L78.50,370.60 L80.00,368.50 L80.83,368.77 L81.67,368.30 L82.50,367.75 L83.25,367.02 L84.00,367.61 L84.75,367.25 L85.60,365.25 L86.43,365.02 L87.27,364.93 L88.10,365.00 L88.93,365.00 L89.77,365.00 L90.60,365.60 L91.90,364.75 L92.93,364.15 L93.97,364.49 L95.00,364.75 L95.94,364.51 L96.88,365.17 L97.81,364.11 L98.75,364.50 L99.69,364.93 L100.62,363.90 L101.56,363.95 L102.50,364.00 L103.44,364.26 L104.38,364.14 L105.31,363.54 L106.25,363.50 L107.08,362.71 L107.92,362.97 L108.75,362.75 L109.58,362.31 L110.42,362.69 L111.25,361.90 L112.17,360.71 L113.10,360.25 L113.93,360.20 L114.77,360.96 L115.60,360.60 L116.55,360.69 L117.50,361.90 L118.33,362.03 L119.17,362.74 L120.00,362.60 L120.94,362.96 L121.88,362.12 L122.81,362.15 L123.75,362.75 L124.80,362.06 L125.85,362.92 L126.90,362.25 L127.83,361.13 L128.75,360.60 L129.68,360.30 L130.60,359.40 L131.55,360.80 L132.50,361.25 L133.45,361.81 L134.40,362.75 L135.23,362.48 L136.07,363.30 L136.90,362.75 L138.50,361.90 L140.00,362.75 L140.83,363.01 L141.67,362.70 L142.50,363.10 L143.40,356.25 L144.40,354.40 L145.32,354.96 L146.25,355.00 L147.18,353.83 L148.10,353.10 L148.93,352.55 L149.77,351.94 L150.60,352.25 L151.55,352.38 L152.50,351.90 L154.00,349.75 L154.75,350.42 L155.50,350.24 L156.25,350.25 L157.08,350.90 L157.92,349.91 L158.75,350.60 L159.68,349.68 L160.60,349.40 L161.55,350.62 L162.50,351.90 L163.25,352.85 L164.00,353.24 L164.75,353.10 L165.82,351.71 L166.90,350.60 L167.73,349.77 L168.57,349.45 L169.40,349.00 L170.23,349.13 L171.07,349.78 L171.90,349.40 L172.93,349.22 L173.97,350.16 L175.00,350.00 L176.03,349.79 L177.07,349.39 L178.10,348.50 L179.15,349.13 L180.20,349.23 L181.25,349.40 L182.08,348.98 L182.92,348.75 L183.75,348.75 L184.68,347.96 L185.60,347.50 L186.55,347.71 L187.50,347.25 L189.00,349.00 L190.60,347.75 L191.55,347.74 L192.50,348.75 L193.33,349.22 L194.17,350.72 L195.00,351.25 L195.83,351.53 L196.67,351.89 L197.50,353.00 L198.25,352.61 L199.00,353.40 L199.75,353.50 L200.60,350.00 L201.43,349.29 L202.27,349.58 L203.10,348.50 L203.93,348.29 L204.77,347.75 L205.60,346.50 L206.43,346.13 L207.27,345.83 L208.10,346.25 L209.15,345.98 L210.20,346.68 L211.25,346.90 L212.30,346.94 L213.35,346.40 L214.40,346.25 L215.32,346.43 L216.25,347.25 L217.75,344.75 L218.70,344.65 L219.65,344.89 L220.60,344.75 L221.43,344.84 L222.27,344.81 L223.10,344.40 L224.05,344.37 L225.00,343.50 L225.83,344.20 L226.67,344.05 L227.50,345.00 L228.33,345.74 L229.17,345.42 L230.00,346.00 L230.83,346.16 L231.67,346.01 L232.50,346.25 L233.33,346.32 L234.17,345.46 L235.00,345.60 L235.83,345.18 L236.67,345.06 L237.50,345.25 L238.45,344.58 L239.40,344.75 L240.60,342.25 L241.43,342.79 L242.27,342.51 L243.10,342.50 L244.18,342.59 L245.25,343.10 L246.50,336.90 L247.50,331.90 L248.45,331.13 L249.40,330.60 L250.23,330.91 L251.07,330.04 L251.90,329.75 L252.73,329.01 L253.57,329.29 L254.40,328.50 L255.23,328.27 L256.07,328.26 L256.90,327.25 L257.73,326.36 L258.57,326.39 L259.40,326.00 L260.23,326.13 L261.07,325.91 L261.90,325.25 L262.70,326.37 L263.50,326.50 L265.00,329.40 L265.83,329.13 L266.67,329.72 L267.50,330.25 L268.33,329.98 L269.17,330.24 L270.00,330.80 L270.83,331.43 L271.67,331.03 L272.50,331.00 L273.33,331.12 L274.17,330.05 L275.00,329.80 L276.03,329.97 L277.07,329.21 L278.10,329.00 L279.15,328.55 L280.20,329.00 L281.25,328.50 L282.30,328.70 L283.35,327.36 L284.40,327.50 L285.23,327.28 L286.07,326.98 L286.90,326.50 L287.82,325.29 L288.75,324.75 L289.58,324.48 L290.42,324.09 L291.25,324.40 L292.18,323.59 L293.10,323.50 L293.93,323.62 L294.77,324.45 L295.60,324.75 L296.43,325.22 L297.27,324.96 L298.10,325.60 L298.93,325.15 L299.77,325.66 L300.60,326.00 L301.55,326.46 L302.50,326.50 L304.00,329.40 L304.75,329.56 L305.50,330.24 L306.25,331.00 L307.18,330.44 L308.10,330.60 L309.40,328.75 L310.32,330.85 L311.25,332.25 L312.08,332.39 L312.92,331.89 L313.75,332.50 L314.80,332.10 L315.85,332.54 L316.90,332.75 L317.73,333.06 L318.57,333.42 L319.40,333.50 L320.23,333.43 L321.07,333.93 L321.90,334.75 L322.93,335.07 L323.97,334.81 L325.00,335.00 L325.83,334.66 L326.67,334.60 L327.50,334.75 L328.33,335.46 L329.17,334.86 L330.00,335.25 L331.03,335.58 L332.07,335.58 L333.10,336.00 L333.93,335.65 L334.77,335.94 L335.60,335.25 L336.43,335.68 L337.27,334.75 L338.10,334.75 L339.15,334.80 L340.20,335.86 L341.25,336.00 L342.08,335.23 L342.92,334.57 L343.75,334.75 L344.68,334.61 L345.60,333.50 L346.55,333.86 L347.50,334.40 L348.33,335.25 L349.17,335.22 L350.00,335.80 L350.83,336.49 L351.67,336.22 L352.50,336.50 L353.45,336.72 L354.40,337.75 L355.60,343.75 L356.55,344.09 L357.50,345.60 L358.45,346.31 L359.40,346.90 L360.60,348.10 L361.50,343.10 L362.30,342.34 L363.10,341.25 L363.93,341.74 L364.77,340.76 L365.60,341.25 L366.43,341.48 L367.27,341.26 L368.10,341.50 L369.05,340.46 L370.00,339.40 L370.83,338.34 L371.67,337.87 L372.50,337.50 L373.33,337.73 L374.17,338.41 L375.00,338.10 L376.03,338.06 L377.07,338.96 L378.10,339.40 L378.93,339.05 L379.77,338.53 L380.60,337.25 L381.43,336.77 L382.27,336.57 L383.10,336.90 L383.93,335.23 L384.75,332.50 L385.82,332.77 L386.90,331.90 L387.73,332.28 L388.57,332.16 L389.40,333.10 L390.32,334.26 L391.25,334.40 L392.18,332.82 L393.10,331.50 L393.93,331.99 L394.77,331.64 L395.60,331.50 L396.43,332.31 L397.27,331.93 L398.10,332.75 L398.93,333.01 L399.77,332.25 L400.60,332.50 L401.43,332.89 L402.27,333.92 L403.10,334.00 L403.93,334.40 L404.77,333.62 L405.60,334.00 L406.43,332.96 L407.27,332.48 L408.10,331.90 L408.93,331.09 L409.77,330.09 L410.60,329.40 L411.43,328.23 L412.27,327.66 L413.10,327.25 L414.05,327.77 L415.00,327.75 L415.95,329.35 L416.90,330.00 L417.82,328.82 L418.75,328.75 L419.58,328.97 L420.42,329.36 L421.25,329.20 L422.12,328.05 L423.00,328.00 L423.87,327.82 L424.73,326.37 L425.60,326.25 L426.55,327.29 L427.50,328.10 L428.33,327.96 L429.17,327.85 L430.00,327.50 L430.83,327.77 L431.67,328.40 L432.50,329.00 L433.33,328.93 L434.17,328.58 L435.00,328.50 L435.83,328.16 L436.67,327.37 L437.50,326.90 L438.33,327.23 L439.17,327.13 L440.00,328.10 L441.03,328.38 L442.07,328.35 L443.10,328.50 L443.93,327.52 L444.77,327.48 L445.60,326.50 L446.43,326.42 L447.27,325.62 L448.10,325.25 L449.15,324.45 L450.20,324.38 L451.25,324.00 L452.30,322.95 L453.35,322.39 L454.40,322.25 L455.23,321.42 L456.07,320.26 L456.90,320.00 L457.70,318.98 L458.50,318.10 L459.55,318.94 L460.60,319.75 L461.55,320.87 L462.50,323.10 L463.25,323.40 L464.00,322.87 L464.75,323.50 L466.00,316.90 L466.88,318.23 L467.75,319.00 L468.50,319.67 L469.25,319.68 L470.00,320.00 L470.95,318.34 L471.90,317.75 L472.73,317.34 L473.57,316.77 L474.40,316.50 L475.43,316.74 L476.47,315.46 L477.50,315.60 L478.33,315.63 L479.17,315.40 L480.00,314.40 L480.83,314.80 L481.67,315.01 L482.50,314.75 L483.33,314.67 L484.17,315.89 L485.00,315.60 L485.83,315.72 L486.67,316.41 L487.50,316.00 L488.45,315.70 L489.40,314.40 L490.32,312.92 L491.25,312.25 L492.08,312.18 L492.92,311.93 L493.75,311.00 L494.58,309.78 L495.42,309.42 L496.25,308.90 L497.12,308.66 L498.00,307.80 L499.00,306.64 L500.00,306.30 L500.83,306.68 L501.67,305.83 L502.50,306.00 L503.25,306.05 L504.00,304.91 L504.75,305.00 L506.25,301.50 L507.18,302.13 L508.10,302.75 L508.93,302.97 L509.77,301.83 L510.60,301.90 L511.43,301.18 L512.27,301.04 L513.10,300.60 L513.93,300.82 L514.77,300.91 L515.60,301.90 L516.43,300.55 L517.27,299.56 L518.10,299.00 L519.05,298.15 L520.00,296.25 L521.50,294.40 L522.30,296.04 L523.10,297.25 L523.93,298.31 L524.77,298.02 L525.60,299.00 L526.43,300.01 L527.27,299.87 L528.10,301.00 L529.15,301.12 L530.20,301.33 L531.25,301.25 L532.08,301.17 L532.92,301.86 L533.75,301.50 L534.50,302.53 L535.25,303.53 L536.00,304.40 L537.05,303.41 L538.10,301.50 L538.93,300.03 L539.77,300.09 L540.60,298.50 L541.43,297.07 L542.27,295.21 L543.10,293.75 L544.17,292.11 L545.25,289.75 L546.08,291.47 L546.90,293.75 L547.83,296.21 L548.75,297.50 L549.67,296.64 L550.60,295.60 L551.67,293.76 L552.75,292.25 L553.50,292.85 L554.25,292.75 L555.00,293.10 L555.83,292.10 L556.67,292.16 L557.50,291.25 L558.33,291.09 L559.17,292.40 L560.00,292.40 L560.83,291.70 L561.67,291.77 L562.50,291.20 L563.33,292.25 L564.17,292.24 L565.00,292.60 L565.83,293.18 L566.67,293.14 L567.50,293.75 L568.45,293.98 L569.40,295.40 L570.23,294.44 L571.07,294.18 L571.90,294.20 L572.73,294.19 L573.57,293.82 L574.40,293.75 L575.33,292.84 L576.25,291.90 L577.50,290.00 L578.75,292.25 L579.58,290.97 L580.40,288.75 L581.33,289.88 L582.25,291.90 L583.33,291.12 L584.40,291.00 L585.33,292.43 L586.25,293.50 L587.17,292.13 L588.10,291.90 L589.05,291.60 L590.00,292.50 L590.95,291.70 L591.90,291.25 L592.83,291.40 L593.75,292.50 L594.67,291.58 L595.60,291.00 L596.55,290.17 L597.50,290.00 L598.45,290.73 L599.40,291.25 L600.33,291.48 L601.25,291.50 L602.17,291.95 L603.10,293.10 L604.50,294.40" fill="none" stroke="#921B1D" stroke-width="1.3" stroke-linejoin="round" stroke-linecap="round"/>
<text class="t" x="327.65" y="282.70">配对交易下的累计收益曲线 <tspan class="l" dx="1.65">%</tspan></text>
<text class="a" x="327.65" y="394.00">时间</text>
<text class="a" transform="translate(11.00,331.50) rotate(-90)">累积收益率</text>
</g>
<g>
<g fill="#fff" fill-opacity="0.93" stroke="#b4b4b4" stroke-width="0.7" stroke-linejoin="round">
<path d="M549.7,373.97 L546.4,376.4 L546.7,372.3 A8.2,7.2 0 1 1 549.7,373.97 Z"/>
<path d="M566.95,378.7 L567.6,381.4 L564.4,380.05 A7,5.8 0 1 1 566.95,378.7 Z" fill-opacity="1"/>
</g>
<g fill="#9a9a9a"><ellipse cx="549.9" cy="364.5" rx="0.95" ry="0.75"/><ellipse cx="556.5" cy="364.5" rx="0.95" ry="0.75"/><ellipse cx="559.4" cy="370.6" rx="0.8" ry="0.65"/><ellipse cx="564.2" cy="370.6" rx="0.8" ry="0.65"/></g>
<text class="wm" x="570.6" y="376.9" fill="#fff" stroke="#bdbdbd" stroke-width="0.8" paint-order="stroke" stroke-linejoin="round">刘琦教</text>
</g>
</svg></body></html>
